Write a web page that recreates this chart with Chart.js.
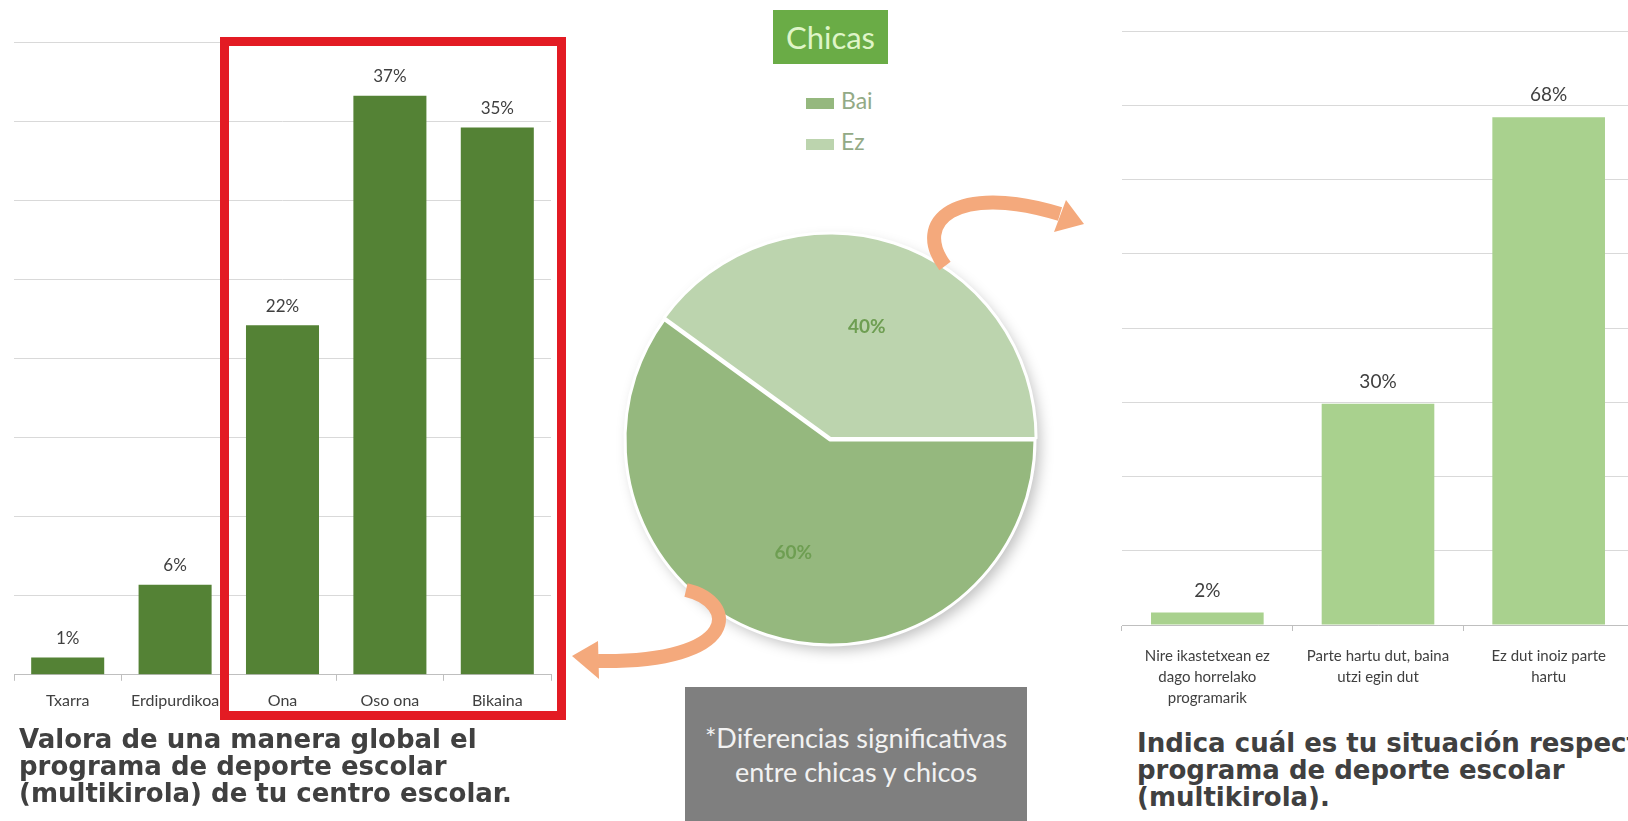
<!DOCTYPE html>
<html lang="es">
<head>
<meta charset="UTF-8">
<title>Multikirola - Chicas</title>
<script src="https://cdn.jsdelivr.net/npm/chart.js@4.4.1/dist/chart.umd.min.js"></script>
<style>
  html, body { margin: 0; padding: 0; }
  body { width: 1628px; height: 821px; overflow: hidden; position: relative; background: #fff; font-family: Lato, "Open Sans", sans-serif; }
  canvas { position: absolute; }
  #leftChart { left: 0; top: 0; }
  #pieChart { left: 600px; top: 210px; }
  #rightChart { left: 1110px; top: 0; }
  .redbox { position: absolute; left: 220px; top: 37px; width: 328px; height: 665px; border: 9px solid #e31b23; }
  .title { position: absolute; font-family: "DejaVu Sans", Verdana, sans-serif; font-weight: bold; font-size: 26px; line-height: 27px; color: #404040; white-space: nowrap; }
  #leftTitle { left: 19px; top: 726px; }
  #rightTitle { left: 1137px; top: 730px; }
  .chicas { position: absolute; left: 773px; top: 10px; width: 115px; height: 54px; background: #6aac46; color: #dff5c8; font-size: 31px; line-height: 54px; text-align: center; }
  .legend { position: absolute; left: 806px; top: 83px; font-size: 23px; color: #93aa86; }
  .legend div { height: 41px; line-height: 34px; white-space: nowrap; }
  .legend span { display: inline-block; width: 28px; height: 11px; margin-right: 7px; vertical-align: middle; }
  .note { position: absolute; left: 685px; top: 687px; width: 342px; height: 140px; background: #7f7f7f; color: #f2f2f2; font-size: 27px; line-height: 34px; text-align: center; padding-top: 34px; box-sizing: border-box; white-space: nowrap; }
  svg { position: absolute; left: 0; top: 0; }
</style>
</head>
<body>
  <canvas id="leftChart" width="565" height="725"></canvas>
  <div class="redbox"></div>
  <canvas id="pieChart" width="460" height="460"></canvas>
  <canvas id="rightChart" width="530" height="728"></canvas>

  <div class="chicas">Chicas</div>
  <div class="legend" id="legend"></div>
  <div class="note">*Diferencias significativas<br>entre chicas y chicos</div>

  <div class="title" id="leftTitle">Valora de una manera global el<br>programa de deporte escolar<br>(multikirola) de tu centro escolar.</div>
  <div class="title" id="rightTitle">Indica cuál es tu situación respecto al<br>programa de deporte escolar<br>(multikirola).</div>

  <!-- flechas naranjas -->
  <svg width="1628" height="821">
    <path d="M 945 266 C 912 222, 955 182, 1060 214" fill="none" stroke="#f4a97c" stroke-width="14"/>
    <polygon points="1084,224 1054,232 1066,200" fill="#f4a97c"/>
    <path d="M 686 590 C 738 602, 742 663, 598 661" fill="none" stroke="#f4a97c" stroke-width="14"/>
    <polygon points="572,656 598,641 599,679" fill="#f4a97c"/>
  </svg>

  <script>
    // datos (alturas; la etiqueta muestra el valor redondeado)
    const leftCategories = ['Txarra', 'Erdipurdikoa', 'Ona', 'Oso ona', 'Bikaina'];
    const leftValues = [1.1, 5.7, 22.1, 36.6, 34.6];

    const pieLabels = ['Bai', 'Ez'];
    const pieValues = [60, 40];

    const rightCategories = [
      ['Nire ikastetxean ez', 'dago horrelako', 'programarik'],
      ['Parte hartu dut, baina', 'utzi egin dut'],
      ['Ez dut inoiz parte', 'hartu']
    ];
    const rightValues = [1.7, 29.8, 68.4];

    const pieColors = ['#95b87e', '#bcd4ae'];

    Chart.defaults.font.family = 'Lato, "Open Sans", sans-serif';
    Chart.defaults.animation = false;

    // etiquetas encima de las barras
    const barLabels = {
      id: 'barLabels',
      afterDatasetsDraw(chart, args, opts) {
        const ctx = chart.ctx;
        const meta = chart.getDatasetMeta(0);
        ctx.save();
        ctx.font = opts.size + 'px Lato, sans-serif';
        ctx.fillStyle = '#404040';
        ctx.textAlign = 'center';
        ctx.textBaseline = 'middle';
        meta.data.forEach((bar, i) => {
          ctx.fillText(Math.round(chart.data.datasets[0].data[i]) + '%', bar.x, bar.y - opts.gap);
        });
        ctx.restore();
      }
    };

    function barOptions(max, step, pad, tickSize, tickPad, lineHeight, labelSize, gap) {
      return {
        responsive: false,
        layout: { padding: pad },
        plugins: {
          legend: { display: false },
          tooltip: { enabled: false },
          barLabels: { size: labelSize, gap: gap }
        },
        scales: {
          x: {
            grid: { drawOnChartArea: false, drawTicks: true, tickLength: 6, color: '#bfbfbf', offset: true },
            border: { color: '#bfbfbf' },
            ticks: { color: '#404040', font: { size: tickSize, lineHeight: lineHeight }, padding: tickPad, maxRotation: 0, autoSkip: false }
          },
          y: {
            min: 0,
            max: max,
            ticks: { stepSize: step, display: false },
            grid: { color: '#d9d9d9', drawTicks: false },
            border: { display: false }
          }
        }
      };
    }

    new Chart(document.getElementById('leftChart'), {
      type: 'bar',
      data: {
        labels: leftCategories,
        datasets: [{ data: leftValues, backgroundColor: '#548235', barPercentage: 0.68, categoryPercentage: 1 }]
      },
      options: barOptions(40, 5, { left: 14, right: 14, top: 42, bottom: 5 }, 16, 10, 1.2, 17, 19),
      plugins: [barLabels]
    });

    new Chart(document.getElementById('rightChart'), {
      type: 'bar',
      data: {
        labels: rightCategories,
        datasets: [{ data: rightValues, backgroundColor: '#a9d18e', barPercentage: 0.66, categoryPercentage: 1 }]
      },
      options: barOptions(80, 10, { left: 12, right: 6, top: 31, bottom: 4 }, 15, 15, '21px', 19, 22),
      plugins: [barLabels]
    });

    // sombra bajo la tarta y porcentajes
    const pieExtras = {
      id: 'pieExtras',
      beforeDatasetsDraw(chart) {
        const ctx = chart.ctx;
        const arc = chart.getDatasetMeta(0).data[0];
        ctx.save();
        ctx.shadowColor = 'rgba(0,0,0,0.25)';
        ctx.shadowBlur = 14;
        ctx.shadowOffsetX = 5;
        ctx.shadowOffsetY = 5;
        ctx.fillStyle = '#ffffff';
        ctx.beginPath();
        ctx.arc(arc.x, arc.y, arc.outerRadius, 0, Math.PI * 2);
        ctx.fill();
        ctx.restore();
      },
      afterDatasetsDraw(chart) {
        const ctx = chart.ctx;
        const meta = chart.getDatasetMeta(0);
        ctx.save();
        ctx.font = 'bold 19px Lato, sans-serif';
        ctx.fillStyle = '#6e9e52';
        ctx.textAlign = 'center';
        ctx.textBaseline = 'middle';
        meta.data.forEach((arc, i) => {
          const mid = (arc.startAngle + arc.endAngle) / 2;
          const r = arc.outerRadius * 0.58;
          ctx.fillText(chart.data.datasets[0].data[i] + '%', arc.x + Math.cos(mid) * r, arc.y + Math.sin(mid) * r);
        });
        ctx.restore();
      }
    };

    new Chart(document.getElementById('pieChart'), {
      type: 'pie',
      data: {
        labels: pieLabels,
        datasets: [{ data: pieValues, backgroundColor: pieColors, borderColor: '#ffffff', borderWidth: 3, offset: [0, 6] }]
      },
      options: {
        responsive: false,
        radius: 205,
        rotation: 90,
        plugins: { legend: { display: false }, tooltip: { enabled: false } }
      },
      plugins: [pieExtras]
    });

    // leyenda
    document.getElementById('legend').innerHTML = pieLabels
      .map((l, i) => '<div><span style="background:' + pieColors[i] + '"></span>' + l + '</div>')
      .join('');
  </script>
</body>
</html>
